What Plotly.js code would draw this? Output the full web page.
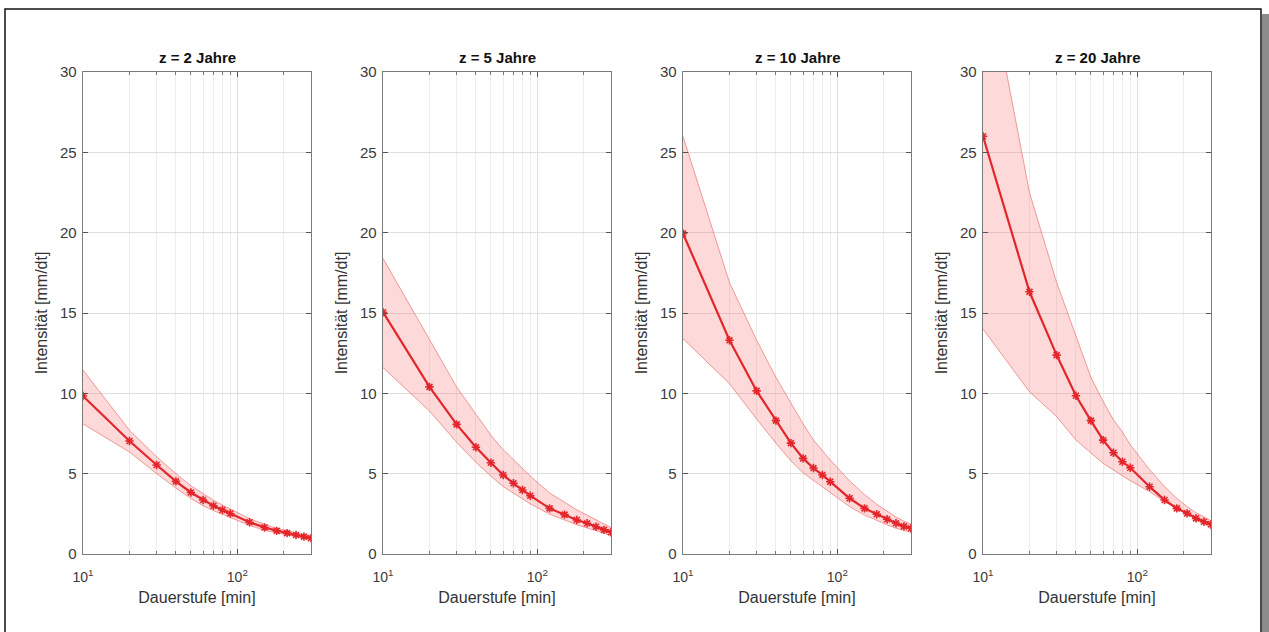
<!DOCTYPE html>
<html>
<head>
<meta charset="utf-8">
<script src="https://cdn.plot.ly/plotly-3.0.1.min.js"></script>
<style>html,body{margin:0;padding:0;background:#fff;}#chart{width:1269px;height:632px;}</style>
</head>
<body>
<div id="chart"></div>
<script>
// ---- data ----
const durations = [10, 20, 30, 40, 50, 60, 70, 80, 90, 120, 150, 180, 210, 240, 270, 300];
const panelTitles = ['z = 2 Jahre', 'z = 5 Jahre', 'z = 10 Jahre', 'z = 20 Jahre'];
const xTickVals = [10, 100];
const xTickText = ['10<sup>1</sup>', '10<sup>2</sup>'];
const xMinorVals = [20, 30, 40, 50, 60, 70, 80, 90, 200, 300];
const yTickVals = [0, 5, 10, 15, 20, 25, 30];

const mean2  = [9.83, 7.03, 5.54, 4.52, 3.83, 3.36, 3.0, 2.74, 2.52, 1.98, 1.65, 1.44, 1.3, 1.18, 1.08, 0.99];
const upper2 = [11.45, 7.7, 6.05, 5.0, 4.25, 3.75, 3.35, 3.05, 2.8, 2.2, 1.85, 1.6, 1.45, 1.32, 1.2, 1.1];
const lower2 = [8.1, 6.35, 5.0, 4.1, 3.45, 3.0, 2.7, 2.45, 2.25, 1.78, 1.48, 1.28, 1.15, 1.05, 0.97, 0.88];

const mean5  = [15.05, 10.4, 8.07, 6.64, 5.68, 4.92, 4.4, 3.98, 3.63, 2.84, 2.45, 2.12, 1.91, 1.7, 1.5, 1.35];
const upper5 = [18.4, 13.4, 10.4, 8.7, 7.4, 6.5, 5.85, 5.3, 4.85, 3.8, 3.2, 2.75, 2.42, 2.12, 1.88, 1.65];
const lower5 = [11.6, 8.9, 6.95, 5.7, 4.85, 4.2, 3.78, 3.42, 3.12, 2.48, 2.1, 1.82, 1.62, 1.45, 1.3, 1.15];

const mean10  = [19.95, 13.3, 10.15, 8.3, 6.9, 5.95, 5.35, 4.92, 4.5, 3.47, 2.84, 2.47, 2.16, 1.91, 1.72, 1.6];
const upper10 = [26.0, 16.9, 13.3, 11.0, 9.4, 8.1, 7.1, 6.4, 5.85, 4.55, 3.7, 3.1, 2.65, 2.3, 2.05, 1.85];
const lower10 = [13.4, 10.6, 8.4, 6.9, 5.8, 5.05, 4.55, 4.15, 3.8, 2.95, 2.42, 2.08, 1.82, 1.6, 1.45, 1.35];

const mean20  = [26.0, 16.32, 12.38, 9.85, 8.3, 7.09, 6.3, 5.74, 5.37, 4.19, 3.36, 2.84, 2.53, 2.22, 2.01, 1.85];
const upper20 = [37.6, 22.5, 16.9, 13.5, 11.0, 9.5, 8.35, 7.6, 6.8, 5.25, 4.2, 3.47, 2.95, 2.57, 2.28, 2.07];
const lower20 = [14.0, 10.1, 8.55, 7.09, 6.27, 5.64, 5.23, 4.85, 4.56, 3.88, 3.26, 2.84, 2.47, 2.18, 1.91, 1.55];

const means  = [mean2, mean5, mean10, mean20];
const uppers = [upper2, upper5, upper10, upper20];
const lowers = [lower2, lower5, lower10, lower20];

// ---- layout geometry (pixels -> paper) ----
const W = 1269, H = 632;
const plotLeft = [83, 383, 683, 983];
const plotWidth = 228;
const plotTop = 72, plotBottom = 554;
const FONT = 'Liberation Sans, Arial, Helvetica, sans-serif';

const red = '#e3262b';
const traces = [];
const layout = {
  width: W, height: H,
  margin: {l: 0, r: 0, t: 0, b: 0},
  paper_bgcolor: '#ffffff',
  plot_bgcolor: '#ffffff',
  showlegend: false,
  font: {family: FONT, color: '#333333'},
  annotations: [],
  shapes: []
};

for (let i = 0; i < 4; i++) {
  const sfx = i === 0 ? '' : String(i + 1);
  const xa = 'x' + sfx, ya = 'y' + sfx;
  const xs = durations.concat(durations.slice().reverse());
  const ys = uppers[i].concat(lowers[i].slice().reverse());
  traces.push({
    type: 'scatter', mode: 'lines', x: xs, y: ys, xaxis: xa, yaxis: ya,
    fill: 'toself', fillcolor: 'rgba(248,120,120,0.28)',
    line: {color: 'rgba(228,95,95,0.75)', width: 0.8},
    hoverinfo: 'skip'
  });
  traces.push({
    type: 'scatter', mode: 'lines+markers', x: durations, y: means[i], xaxis: xa, yaxis: ya,
    line: {color: red, width: 2.2},
    marker: {symbol: 'asterisk-open', size: 7, color: red, line: {color: red, width: 1.6}},
    cliponaxis: true
  });

  const x0 = plotLeft[i] / W, x1 = (plotLeft[i] + plotWidth) / W;
  layout['xaxis' + sfx] = {
    type: 'log', range: [1, Math.log10(300)], domain: [x0, x1], anchor: ya,
    tickmode: 'array', tickvals: xTickVals, ticktext: xTickText,
    ticks: 'inside', ticklen: 5, tickwidth: 1, tickcolor: '#555',
    showline: true, linecolor: '#7a7a7a', linewidth: 1.3, mirror: 'ticks',
    showgrid: true, gridcolor: '#dedede', gridwidth: 1, zeroline: false,
    minor: {tickmode: 'array', tickvals: xMinorVals, ticks: 'inside', ticklen: 3,
            tickcolor: '#777', showgrid: true, gridcolor: '#ededed', gridwidth: 1},
    tickfont: {family: FONT, size: 14, color: '#3a3a3a'},
    ticklabelstandoff: 10,
    title: {text: 'Dauerstufe [min]', font: {family: FONT, size: 16, color: '#333'}, standoff: 7},
    fixedrange: true
  };
  layout['yaxis' + sfx] = {
    range: [0, 30], domain: [1 - plotBottom / H, 1 - plotTop / H], anchor: xa,
    tickmode: 'array', tickvals: yTickVals,
    ticks: 'inside', ticklen: 5, tickwidth: 1, tickcolor: '#555',
    showline: true, linecolor: '#7a7a7a', linewidth: 1.3, mirror: 'ticks',
    showgrid: true, gridcolor: '#dedede', gridwidth: 1, zeroline: false,
    tickfont: {family: FONT, size: 15, color: '#3a3a3a'},
    ticklabelstandoff: 2,
    title: {text: 'Intensität [mm/dt]', font: {family: FONT, size: 16, color: '#333'}, standoff: 8},
    fixedrange: true
  };
  layout.annotations.push({
    text: '<b>' + panelTitles[i] + '</b>', xref: 'paper', yref: 'paper',
    x: (x0 + x1) / 2, y: 1 - 57 / H, xanchor: 'center', yanchor: 'middle',
    showarrow: false, font: {family: FONT, size: 15, color: '#111'}
  });
}

// outer frame with shadow
layout.shapes.push({type: 'rect', xref: 'paper', yref: 'paper', layer: 'above',
  x0: 1262 / W, x1: 1269 / W, y0: -0.1, y1: 1 - 14 / H,
  fillcolor: '#8c8c8c', line: {width: 0}});
layout.shapes.push({type: 'rect', xref: 'paper', yref: 'paper', layer: 'above',
  x0: 5 / W, x1: 1261 / W, y0: -0.1, y1: 1 - 9 / H,
  fillcolor: 'rgba(0,0,0,0)', line: {color: '#111', width: 1.5}});

Plotly.newPlot('chart', traces, layout, {displayModeBar: false, staticPlot: true});
</script>
</body>
</html>
